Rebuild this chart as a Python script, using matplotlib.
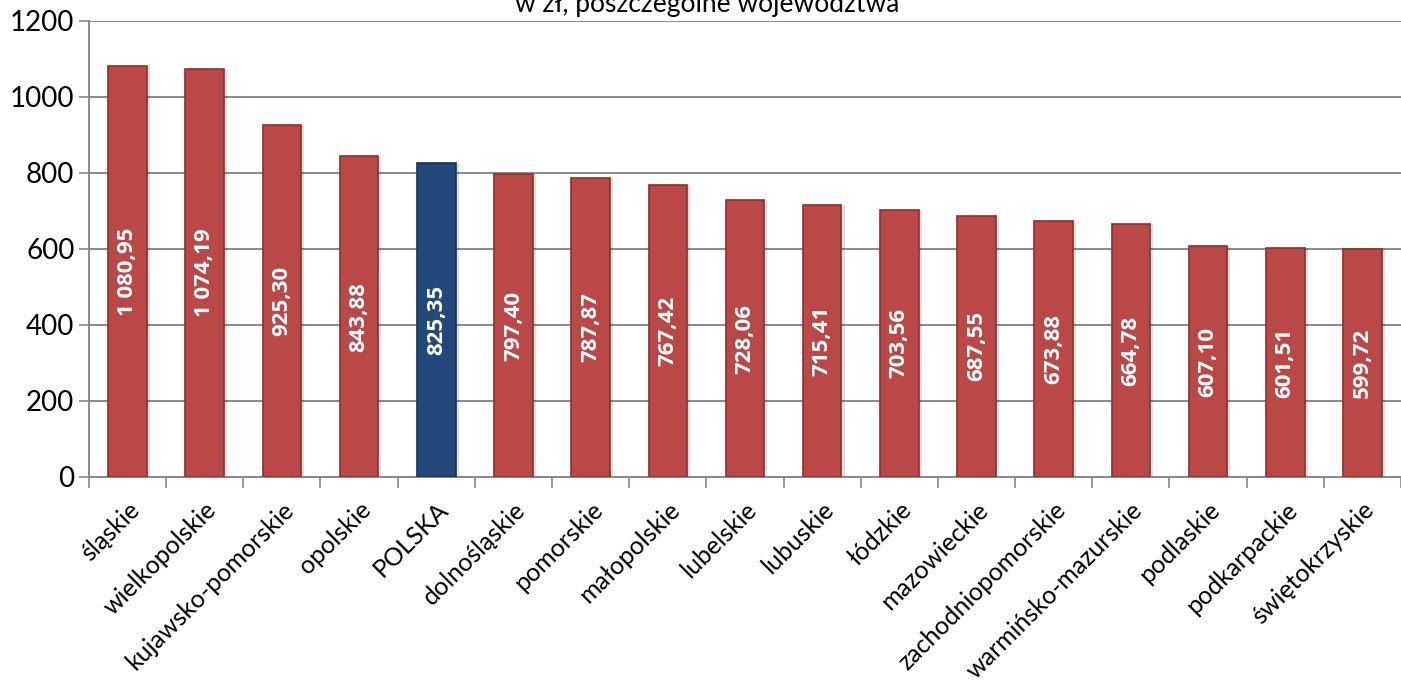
import numpy as np
import matplotlib
matplotlib.use("Agg")
import matplotlib.pyplot as plt

# data
regions = ["śląskie", "wielkopolskie", "kujawsko-pomorskie", "opolskie", "POLSKA",
           "dolnośląskie", "pomorskie", "małopolskie", "lubelskie", "lubuskie",
           "łódzkie", "mazowieckie", "zachodniopomorskie", "warmińsko-mazurskie",
           "podlaskie", "podkarpackie", "świętokrzyskie"]
values = [1080.95, 1074.19, 925.30, 843.88, 825.35, 797.40, 787.87, 767.42,
          728.06, 715.41, 703.56, 687.55, 673.88, 664.78, 607.10, 601.51, 599.72]
labels = ["1 080,95", "1 074,19", "925,30", "843,88", "825,35", "797,40", "787,87",
          "767,42", "728,06", "715,41", "703,56", "687,55", "673,88", "664,78",
          "607,10", "601,51", "599,72"]
title = "w zł, poszczególne województwa"

plt.rcParams['font.family'] = ['Lato', 'DejaVu Sans']

red = "#B94846"
red_edge = "#8A302E"
blue = "#23497A"
blue_edge = "#163359"
colors = [blue if r == "POLSKA" else red for r in regions]
edges = [blue_edge if r == "POLSKA" else red_edge for r in regions]

fig = plt.figure(figsize=(14.01, 6.93), dpi=100)
ax = fig.add_axes([0.0635, 0.3117, 0.9365, 0.658])

x = np.arange(len(regions))
w = 0.5

# soft shadow
ax.bar(x + 0.04, values, width=w, color="#000000", alpha=0.12, zorder=2)
ax.bar(x, values, width=w, color=colors, edgecolor=edges, linewidth=1.2, zorder=3)

for xi, v, lab in zip(x, values, labels):
    ax.text(xi, v / 2, lab, rotation=90, ha="center", va="center",
            color="white", fontsize=16, fontweight="bold",
            family=["Open Sans", "DejaVu Sans"], zorder=4)

ax.set_xlim(-0.5, len(regions) - 0.5)
ax.set_ylim(0, 1200)
ax.set_yticks(np.arange(0, 1201, 200))
ax.tick_params(axis="y", labelsize=20, length=7, color="#888888", width=1.2)
ax.yaxis.grid(True, color="#8a8a8a", linewidth=1.4, zorder=0)
ax.set_axisbelow(True)

ax.set_xticks(x)
ax.set_xticklabels(regions, rotation=45, ha="right", rotation_mode="anchor",
                   fontsize=18)
ax.set_xticks(np.arange(-0.5, len(regions), 1), minor=True)
ax.tick_params(axis="x", which="major", length=0, pad=15)
ax.tick_params(axis="x", which="minor", length=8, color="#888888", width=1.2)

for s in ["top", "right"]:
    ax.spines[s].set_visible(False)
for s in ["left", "bottom"]:
    ax.spines[s].set_color("#888888")
    ax.spines[s].set_linewidth(1.4)

fig.text(0.505, 0.993, title, ha="center", va="center", fontsize=19)

fig.savefig("out.png", dpi=100)
